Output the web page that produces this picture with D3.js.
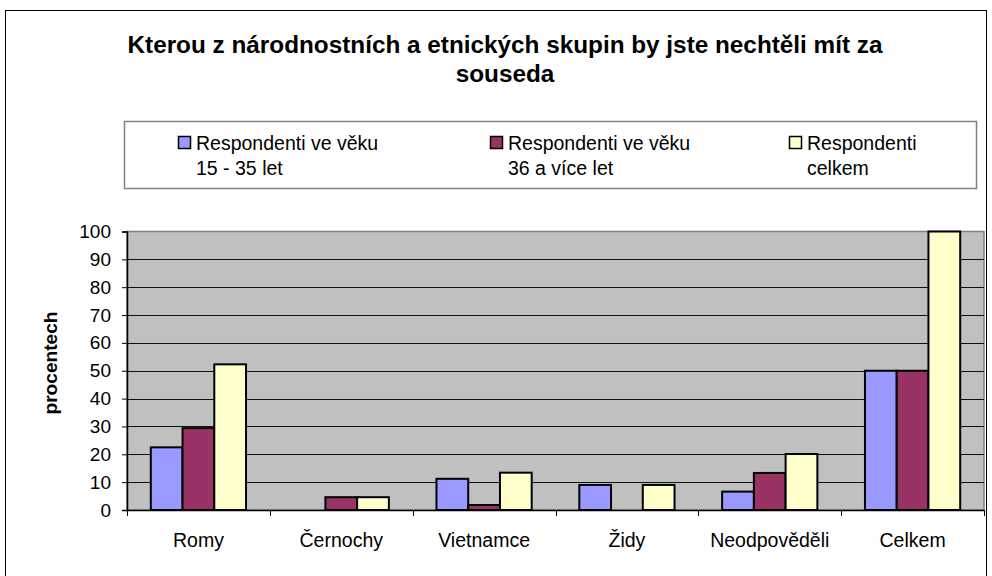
<!DOCTYPE html>
<html>
<head>
<meta charset="utf-8">
<script src="https://cdn.jsdelivr.net/npm/d3@7"></script>
<style>
  html, body { margin: 0; padding: 0; background: #fff; }
  svg { display: block; }
  text { font-family: "Liberation Sans", Arial, sans-serif; fill: #000; }
</style>
</head>
<body>
<svg id="chart" width="992" height="576"></svg>
<script>
const categories = ["Romy", "Černochy", "Vietnamce", "Židy", "Neodpověděli", "Celkem"];
const seriesNames = [
  ["Respondenti ve věku", "15 - 35 let"],
  ["Respondenti ve věku", "36 a více let"],
  ["Respondenti", "celkem"]
];
const young = [22.5, 0, 11.2, 9, 6.6, 50];
const older = [29.4, 4.6, 1.8, 0, 13.3, 50];
const total = [52.3, 4.6, 13.4, 9, 20.1, 100];
const seriesColors = ["#9999FF", "#993366", "#FFFFCC"];
const yTicks = [0, 10, 20, 30, 40, 50, 60, 70, 80, 90, 100];
const titleLines = ["Kterou z národnostních a etnických skupin by jste nechtěli mít za", "souseda"];
const yLabel = "procentech";

const series = [young, older, total];
const svg = d3.select("#chart");
const FONT = "Liberation Sans, Arial, sans-serif";

// outer frame
svg.append("rect").attr("x", 5.5).attr("y", 10.5).attr("width", 981).attr("height", 600)
  .attr("fill", "#fff").attr("stroke", "#000").attr("stroke-width", 1);

// title (first line stretched to the reference width, same stretch applied to the second)
const titles = svg.append("g").selectAll("text").data(titleLines).join("text")
  .attr("x", 505).attr("y", (d, i) => 53 + i * 29)
  .attr("text-anchor", "middle").attr("font-weight", "bold").attr("font-size", 23)
  .text(d => d);
const natural = titles.nodes().map(n => n.getComputedTextLength());
const stretch = 755 / natural[0];
titles.attr("textLength", (d, i) => natural[i] * stretch).attr("lengthAdjust", "spacingAndGlyphs");

// legend
svg.append("rect").attr("x", 124.5).attr("y", 121.5).attr("width", 852).attr("height", 67)
  .attr("fill", "#fff").attr("stroke", "#808080").attr("stroke-width", 1.5);
const legendX = [178, 490, 789];
const lg = svg.append("g").selectAll("g").data(seriesNames).join("g")
  .attr("transform", (d, i) => `translate(${legendX[i]},0)`);
lg.append("rect").attr("x", 0.5).attr("y", 136.5).attr("width", 12).attr("height", 12)
  .attr("fill", (d, i) => seriesColors[i]).attr("stroke", "#000").attr("stroke-width", 1.5);
lg.append("text").attr("font-size", 19.5)
  .selectAll("tspan").data(d => d).join("tspan")
  .attr("x", 18).attr("y", (d, i) => 150 + i * 25).text(d => d);

// plot area
const pLeft = 127, pRight = 984, pTop = 231.5, pBottom = 510;
const x = d3.scaleBand().domain(categories).range([pLeft, pRight]).paddingInner(0).paddingOuter(0);
const y = d3.scaleLinear().domain([0, 100]).range([pBottom, pTop]);

svg.append("rect").attr("x", pLeft).attr("y", pTop).attr("width", pRight - pLeft).attr("height", pBottom - pTop)
  .attr("fill", "#C0C0C0").attr("stroke", "#808080").attr("stroke-width", 1.5);

// gridlines
svg.append("g").selectAll("line").data(yTicks.filter(t => t > 0 && t < 100)).join("line")
  .attr("x1", pLeft).attr("x2", pRight)
  .attr("y1", d => Math.round(y(d)) + 0.5).attr("y2", d => Math.round(y(d)) + 0.5)
  .attr("stroke", "#111").attr("stroke-width", 1);

// bars
const bw = x.bandwidth() / 4.5;
const barData = [];
categories.forEach((c, ci) => series.forEach((s, si) => { if (s[ci] > 0) barData.push({ c, si, v: s[ci] }); }));
svg.append("g").selectAll("rect").data(barData).join("rect")
  .attr("x", d => x(d.c) + bw * 0.75 + d.si * bw)
  .attr("y", d => y(d.v))
  .attr("width", bw)
  .attr("height", d => pBottom - y(d.v))
  .attr("fill", d => seriesColors[d.si])
  .attr("stroke", "#000").attr("stroke-width", 2);

// y axis
const yAxis = svg.append("g").attr("transform", `translate(${pLeft},0)`)
  .call(d3.axisLeft(y).tickValues(yTicks).tickSize(5).tickPadding(11));
yAxis.select(".domain").attr("stroke", "#000").attr("stroke-width", 1.5);
yAxis.selectAll(".tick line").attr("stroke", "#000");
yAxis.selectAll("text").attr("font-size", 19).attr("font-family", FONT);

// x axis
const xAxis = svg.append("g").attr("transform", `translate(0,${pBottom})`)
  .call(d3.axisBottom(x).tickSize(0).tickPadding(23));
xAxis.select(".domain").attr("stroke", "#000").attr("stroke-width", 1.5);
xAxis.selectAll("text").attr("font-size", 19.5).attr("font-family", FONT);
svg.append("g").selectAll("line").data(d3.range(categories.length + 1)).join("line")
  .attr("x1", i => Math.round(pLeft + i * x.bandwidth()) + 0.5)
  .attr("x2", i => Math.round(pLeft + i * x.bandwidth()) + 0.5)
  .attr("y1", pBottom).attr("y2", pBottom + 6)
  .attr("stroke", "#000").attr("stroke-width", 1);

// y label
svg.append("text").attr("transform", "translate(57,363) rotate(-90)")
  .attr("text-anchor", "middle").attr("font-weight", "bold").attr("font-size", 18)
  .attr("textLength", 103).attr("lengthAdjust", "spacingAndGlyphs")
  .text(yLabel);
</script>
</body>
</html>
